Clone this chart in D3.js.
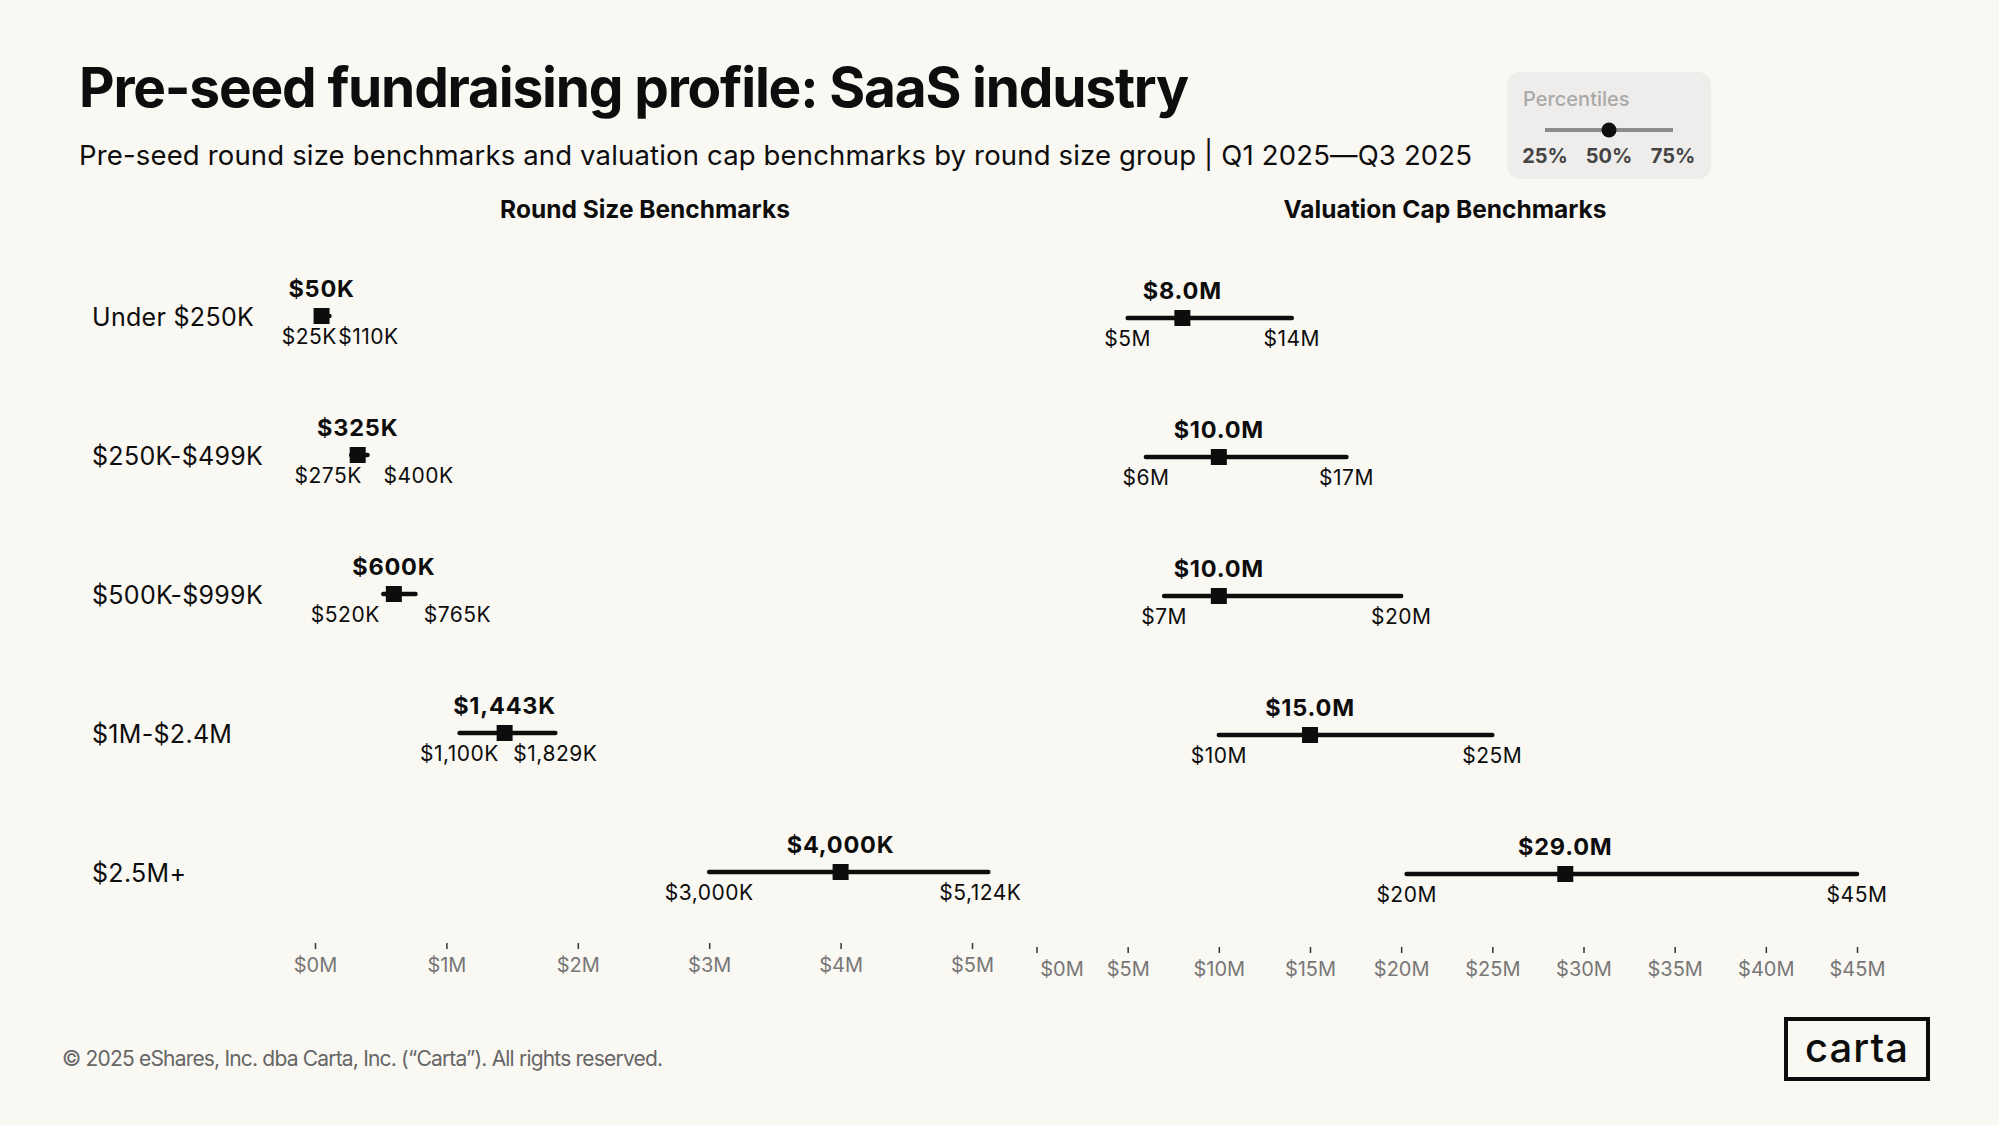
<!DOCTYPE html>
<html>
<head>
<meta charset="utf-8">
<script src="https://cdn.jsdelivr.net/npm/d3@7"></script>
<style>
  body { margin: 0; background: #faf8f3; }
  text { font-family: Inter, 'Noto Sans', sans-serif; }
</style>
</head>
<body>
<svg id="chart"></svg>
<script>
const groups = ['Under $250K', '$250K-$499K', '$500K-$999K', '$1M-$2.4M', '$2.5M+']

// round size, in $K
const roundP25 = [25, 275, 520, 1100, 3000]
const roundP50 = [50, 325, 600, 1443, 4000]
const roundP75 = [110, 400, 765, 1829, 5124]

// valuation cap, in $M
const capP25 = [5, 6, 7, 10, 20.3]
const capP50 = [8, 10, 10, 15, 29]
const capP75 = [14, 17, 20, 25, 45]

const roundTicks = [0, 1000, 2000, 3000, 4000, 5000]
const capTicks = [0, 5, 10, 15, 20, 25, 30, 35, 40, 45]
const legendLabels = ['25%', '50%', '75%']

// hand nudges for the percentile labels that would collide (px)
const roundLabelNudge = [[-9, 39], [-23, 51], [-38, 42], [0, 0], [0, -8]]
const capLabelNudge = [[0, 0], [0, 0], [0, 0], [0, 0], [0, 0]]

const W = 1999
const H = 1125
const INK = '#0d0d0d'

const svg = d3.select('#chart').attr('width', W).attr('height', H)
svg.append('rect').attr('width', W).attr('height', H).attr('fill', '#faf8f3')

function fit(sel, width) {
  const node = sel.node()
  const n = node.getNumberOfChars()
  const cur = node.getComputedTextLength()
  sel.attr('letter-spacing', (width - cur) / Math.max(n - 1, 1))
}

// header
svg.append('text')
  .attr('x', 79).attr('y', 107)
  .attr('font-size', 55).attr('font-weight', 700).attr('fill', INK)
  .text('Pre-seed fundraising profile: SaaS industry')
  .call(fit, 1110)

svg.append('text')
  .attr('x', 79).attr('y', 165)
  .attr('font-size', 27.5).attr('fill', INK)
  .text('Pre-seed round size benchmarks and valuation cap benchmarks by round size group |  Q1 2025\u2014Q3 2025')
  .call(fit, 1393)

// legend
const legend = svg.append('g')
legend.append('rect')
  .attr('x', 1507).attr('y', 72).attr('width', 204).attr('height', 107)
  .attr('rx', 13).attr('fill', '#eeedeb')
legend.append('text')
  .attr('x', 1523).attr('y', 106)
  .attr('font-size', 20).attr('font-weight', 500).attr('fill', '#a9a9a9')
  .text('Percentiles')
const lx = d3.scalePoint().domain(legendLabels).range([1545, 1673])
legend.append('line')
  .attr('x1', lx('25%')).attr('x2', lx('75%'))
  .attr('y1', 130).attr('y2', 130)
  .attr('stroke', '#8c8c8c').attr('stroke-width', 4)
legend.append('circle')
  .attr('cx', lx('50%')).attr('cy', 130).attr('r', 7.5).attr('fill', INK)
legend.selectAll('text.pct')
  .data(legendLabels)
  .join('text')
  .attr('class', 'pct')
  .attr('x', (d) => lx(d)).attr('y', 163)
  .attr('text-anchor', 'middle')
  .attr('font-size', 20).attr('font-weight', 700).attr('fill', '#444')
  .text((d) => d)

// category labels
const y = d3.scalePoint().domain(groups).range([316, 872])

svg.selectAll('text.cat')
  .data(groups)
  .join('text')
  .attr('class', 'cat')
  .attr('x', 92).attr('y', (d) => y(d) + 10)
  .attr('font-size', 25).attr('letter-spacing', 0.3).attr('fill', INK)
  .text((d) => d)

function drawPanel(opts) {
  const { title, titleX, x, dy, p25, p50, p75, fmtMid, fmtPct, nudge, ticks, axisY } = opts
  const g = svg.append('g')

  g.append('text')
    .attr('x', titleX).attr('y', 218)
    .attr('text-anchor', 'middle')
    .attr('font-size', 24.5).attr('font-weight', 700).attr('fill', INK)
    .text(title)

  const rows = groups.map((grp, i) => ({
    grp, i, p25: p25[i], p50: p50[i], p75: p75[i], ry: y(grp) + dy,
  }))

  g.selectAll('line.range')
    .data(rows)
    .join('line')
    .attr('class', 'range')
    .attr('x1', (d) => x(d.p25)).attr('x2', (d) => x(d.p75))
    .attr('y1', (d) => d.ry).attr('y2', (d) => d.ry)
    .attr('stroke', INK).attr('stroke-width', 4.5).attr('stroke-linecap', 'round')

  g.selectAll('rect.mid')
    .data(rows)
    .join('rect')
    .attr('class', 'mid')
    .attr('x', (d) => x(d.p50) - 8).attr('y', (d) => d.ry - 8)
    .attr('width', 16).attr('height', 16)
    .attr('fill', INK)

  g.selectAll('text.mid')
    .data(rows)
    .join('text')
    .attr('class', 'mid')
    .attr('x', (d) => x(d.p50)).attr('y', (d) => d.ry - 19)
    .attr('text-anchor', 'middle')
    .attr('font-size', 23.5).attr('font-weight', 700).attr('letter-spacing', 0.8)
    .attr('fill', INK)
    .text((d) => fmtMid(d.p50))

  const pctLabels = rows.flatMap((d) => [
    { v: d.p25, ry: d.ry, dx: nudge[d.i][0] },
    { v: d.p75, ry: d.ry, dx: nudge[d.i][1] },
  ])

  g.selectAll('text.pctl')
    .data(pctLabels)
    .join('text')
    .attr('class', 'pctl')
    .attr('x', (d) => x(d.v) + d.dx).attr('y', (d) => d.ry + 28)
    .attr('text-anchor', 'middle')
    .attr('font-size', 21).attr('letter-spacing', 0.5).attr('fill', INK)
    .text((d) => fmtPct(d.v))

  const axis = g.append('g')
    .attr('transform', `translate(0,${axisY})`)
    .call(d3.axisBottom(x).tickValues(ticks).tickSize(6).tickPadding(9)
      .tickFormat(opts.fmtTick))
  axis.select('.domain').remove()
  axis.selectAll('.tick line').attr('stroke', '#333').attr('stroke-width', 1.5)
  axis.selectAll('.tick text')
    .attr('font-size', 20).attr('fill', '#777')
    .attr('font-family', "Inter, 'Noto Sans', sans-serif")
  return axis
}

const xRound = d3.scaleLinear().domain([0, 5000]).range([315, 972])
const xCap = d3.scaleLinear().domain([0, 45]).range([1036.5, 1857])

drawPanel({
  title: 'Round Size Benchmarks', titleX: 645,
  x: xRound, dy: 0,
  p25: roundP25, p50: roundP50, p75: roundP75,
  fmtMid: (v) => '$' + d3.format(',')(v) + 'K',
  fmtPct: (v) => '$' + d3.format(',')(v) + 'K',
  fmtTick: (v) => '$' + v / 1000 + 'M',
  nudge: roundLabelNudge, ticks: roundTicks, axisY: 943,
})

const capAxis = drawPanel({
  title: 'Valuation Cap Benchmarks', titleX: 1445,
  x: xCap, dy: 2,
  p25: capP25, p50: capP50, p75: capP75,
  fmtMid: (v) => '$' + d3.format('.1f')(v) + 'M',
  fmtPct: (v) => '$' + Math.round(v) + 'M',
  fmtTick: (v) => '$' + v + 'M',
  nudge: capLabelNudge, ticks: capTicks, axisY: 947,
})
// first cap label is pushed off the round-size axis
capAxis.selectAll('.tick text').filter((d) => d === 0).attr('dx', 25)

// footer
svg.append('text')
  .attr('x', 62).attr('y', 1066)
  .attr('font-size', 21).attr('fill', '#666')
  .text('\u00a9 2025 eShares, Inc. dba Carta, Inc. (\u201cCarta\u201d). All rights reserved.')
  .call(fit, 601)

const logo = svg.append('g')
logo.append('rect')
  .attr('x', 1786).attr('y', 1019).attr('width', 142).attr('height', 60)
  .attr('fill', 'none').attr('stroke', INK).attr('stroke-width', 4)
logo.append('text')
  .attr('x', 1857).attr('y', 1062)
  .attr('text-anchor', 'middle')
  .attr('font-size', 40).attr('font-weight', 500).attr('fill', INK)
  .text('carta')
  .call(fit, 103)
</script>
</body>
</html>
